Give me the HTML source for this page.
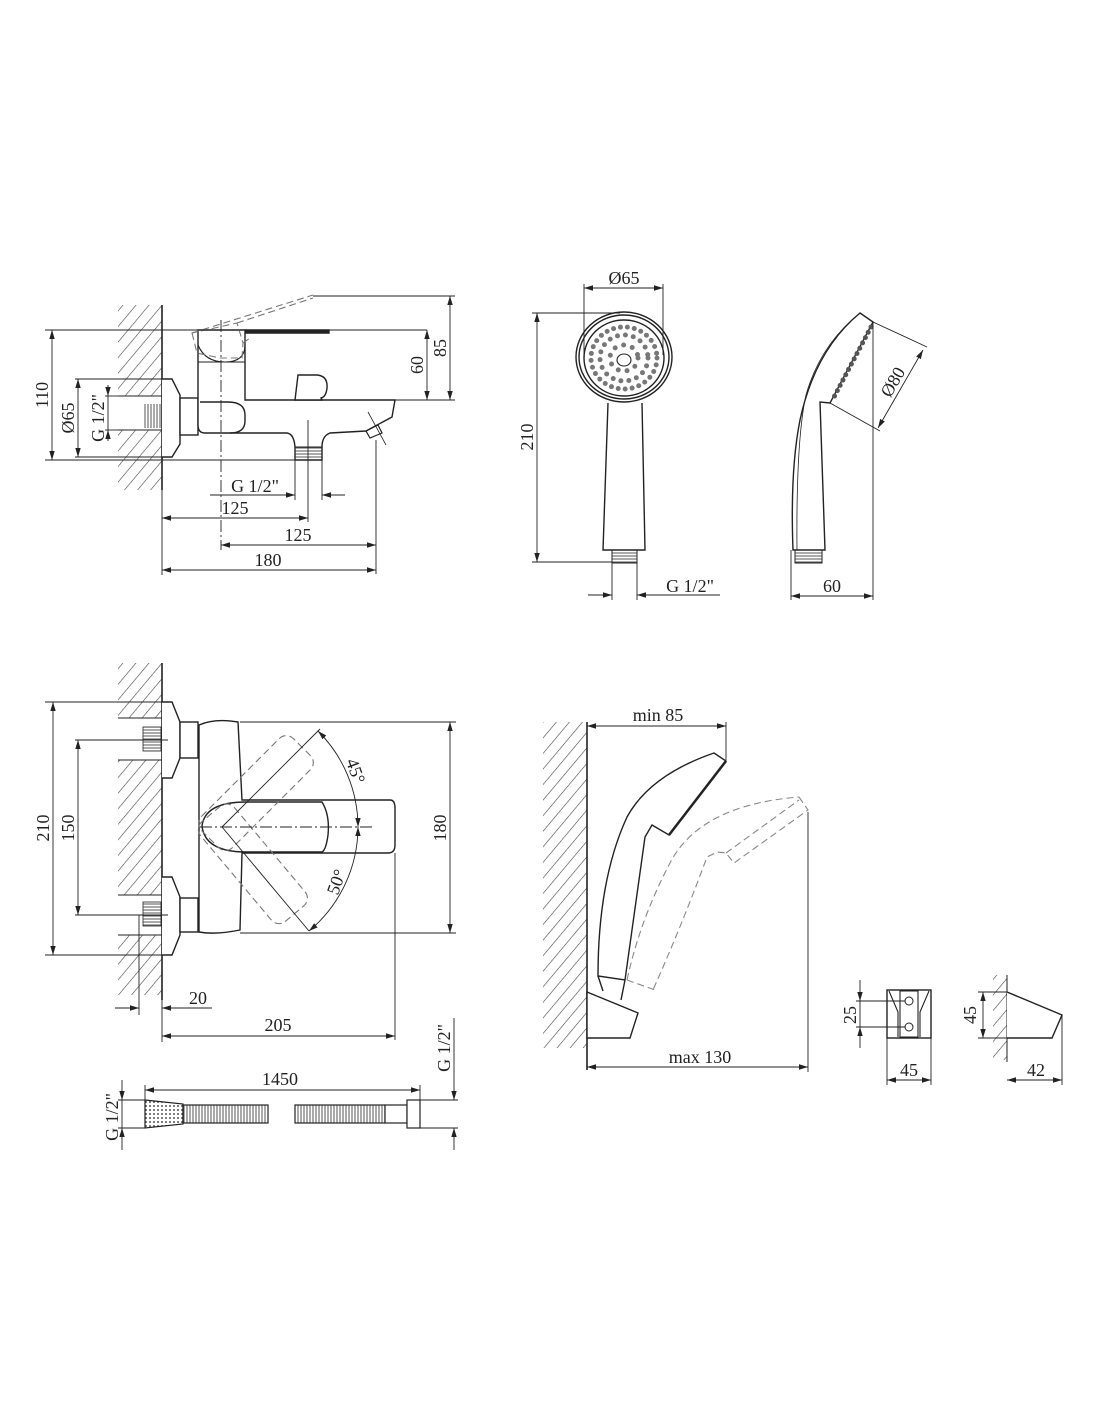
<!DOCTYPE html>
<html><head><meta charset="utf-8"><style>
html,body{margin:0;padding:0;background:#fff}
svg{display:block}
text{font-family:"Liberation Serif",serif;font-size:18px;fill:#222}
</style></head><body>
<svg width="1100" height="1422" viewBox="0 0 1100 1422" xmlns="http://www.w3.org/2000/svg">
<defs>
<pattern id="h" width="10" height="10" patternUnits="userSpaceOnUse" patternTransform="rotate(40)">
<line x1="0" y1="0" x2="0" y2="10" stroke="#444" stroke-width="1.2"/></pattern>
<pattern id="v" width="3" height="3" patternUnits="userSpaceOnUse">
<line x1="1" y1="0" x2="1" y2="3" stroke="#555" stroke-width="1"/></pattern>
<pattern id="hz" width="3" height="3" patternUnits="userSpaceOnUse">
<line x1="0" y1="1" x2="3" y2="1" stroke="#555" stroke-width="1"/></pattern>
<pattern id="dots" width="4" height="4" patternUnits="userSpaceOnUse">
<circle cx="2" cy="2" r="1" fill="#555"/></pattern>
<marker id="a" viewBox="0 0 10 10" refX="10" refY="5" markerWidth="9" markerHeight="9" orient="auto-start-reverse" markerUnits="userSpaceOnUse">
<path d="M0,2 L10,5 L0,8 Z" fill="#222"/></marker>
</defs>
<g fill="none" stroke="#222" stroke-width="1.4">

<!-- ===== TOP MIXER ===== -->
<rect x="118" y="305" width="44" height="185" fill="url(#h)" stroke="none"/>
<rect x="117" y="396" width="45" height="34" fill="#fff" stroke="none"/>
<line x1="118" y1="396" x2="162" y2="396" stroke-width="1"/>
<line x1="118" y1="430" x2="162" y2="430" stroke-width="1"/>
<rect x="143" y="404" width="19" height="24" fill="url(#v)" stroke="none"/>
<line x1="162" y1="305" x2="162" y2="490" stroke-width="1.6"/>
<path d="M162,379 L172,379 L180,395 L180,444 L172,457 L162,457" fill="#fff"/>
<rect x="180" y="398" width="18" height="37" fill="#fff"/>
<!-- body -->
<path d="M198,330 L245,330 L245,400 L395,400 L392,417 L366,431 L330,433 Q322,436 322,447 L322,460 L295,460 L295,447 Q294,434 287,433 L205,433 Q198,433 198,425 Z" fill="#fff"/>
<path d="M200,402 L228,402 Q245,402 245,415 L245,421 Q245,433 230,433" />
<path d="M198,345 Q205,362 225,362 Q245,362 245,345" stroke-width="1.1"/>
<path d="M198,362 L245,362" stroke-width="1.1"/>
<path d="M245,330 L329,330 L329,333 L245,333" fill="#222"/>
<rect x="295" y="447" width="27" height="13" fill="url(#hz)" stroke-width="1"/>
<path d="M298,375 L317,375 Q328,376 327,388 Q326,397 321,398 L322,400 L295,400 Z" fill="#fff"/>
<path d="M366,431 L378,425 L382,433 L370,438 Z" stroke-width="1.2"/>
<line x1="368" y1="412" x2="386" y2="445" stroke-width="0.8"/>
<!-- dashed raised lever -->
<g stroke="#777" stroke-dasharray="7 4" stroke-width="1.1">
<path d="M192,333 L197,353 L220,358 L242,358 L243,343 L237,323 Z"/>
<path d="M192,333 L313,295"/><path d="M237,323 L313,298"/><path d="M243,343 L250,338"/>
</g>
<line x1="221" y1="320" x2="221" y2="550" stroke-dasharray="12 3 2 3" stroke-width="0.9"/>
<!-- dims top mixer -->
<g stroke-width="0.9">
<line x1="45" y1="330" x2="427" y2="330"/>
<line x1="45" y1="460" x2="300" y2="460"/>
<line x1="52" y1="330" x2="52" y2="460" marker-start="url(#a)" marker-end="url(#a)"/>
<line x1="75" y1="379" x2="165" y2="379"/><line x1="75" y1="457" x2="165" y2="457"/>
<line x1="78" y1="379" x2="78" y2="457" marker-start="url(#a)" marker-end="url(#a)"/>
<line x1="105" y1="396" x2="118" y2="396"/><line x1="105" y1="430" x2="118" y2="430"/>
<line x1="108" y1="385" x2="108" y2="396" marker-end="url(#a)"/>
<line x1="108" y1="441" x2="108" y2="430" marker-end="url(#a)"/>
<line x1="108" y1="396" x2="108" y2="430"/>
<line x1="313" y1="296" x2="455" y2="296"/><line x1="395" y1="400" x2="455" y2="400"/>
<line x1="450" y1="296" x2="450" y2="400" marker-start="url(#a)" marker-end="url(#a)"/>
<line x1="427" y1="330" x2="427" y2="400" marker-start="url(#a)" marker-end="url(#a)"/>
<line x1="295" y1="460" x2="295" y2="500"/><line x1="322" y1="460" x2="322" y2="500"/>
<line x1="210" y1="495" x2="295" y2="495" marker-end="url(#a)"/>
<line x1="345" y1="495" x2="322" y2="495" marker-end="url(#a)"/>
<line x1="162" y1="490" x2="162" y2="575"/>
<line x1="308" y1="420" x2="308" y2="522"/>
<line x1="376" y1="440" x2="376" y2="574"/>
<line x1="162" y1="518" x2="308" y2="518" marker-start="url(#a)" marker-end="url(#a)"/>
<line x1="221" y1="545" x2="376" y2="545" marker-start="url(#a)" marker-end="url(#a)"/>
<line x1="162" y1="570" x2="376" y2="570" marker-start="url(#a)" marker-end="url(#a)"/>
</g>

<!-- ===== HAND SHOWER FRONT ===== -->
<ellipse cx="624" cy="357" rx="48" ry="45" fill="#fff"/>
<ellipse cx="624" cy="357" rx="45" ry="42"/>
<ellipse cx="624" cy="358" rx="40" ry="38"/>
<g stroke="#777" stroke-linecap="round" stroke-width="5">
<ellipse cx="624" cy="358" rx="14" ry="13" stroke-dasharray="0 9"/>
<ellipse cx="624" cy="358" rx="24" ry="23" stroke-dasharray="0 8"/>
<ellipse cx="624" cy="358" rx="33" ry="31" stroke-dasharray="0 7"/>
</g>
<ellipse cx="624" cy="360" rx="7" ry="6" stroke-width="1.1"/>
<path d="M608,403 L603,550 L645,550 L642,403" fill="#fff"/>
<rect x="612" y="550" width="25" height="13" fill="url(#hz)" stroke-width="1"/>
<g stroke-width="0.9">
<line x1="584" y1="284" x2="584" y2="355"/><line x1="663" y1="284" x2="663" y2="355"/>
<line x1="584" y1="288" x2="663" y2="288" marker-start="url(#a)" marker-end="url(#a)"/>
<line x1="532" y1="313" x2="620" y2="313"/><line x1="532" y1="562" x2="612" y2="562"/>
<line x1="537" y1="313" x2="537" y2="562" marker-start="url(#a)" marker-end="url(#a)"/>
<line x1="612" y1="563" x2="612" y2="600"/><line x1="637" y1="563" x2="637" y2="600"/>
<line x1="588" y1="595" x2="612" y2="595" marker-end="url(#a)"/>
<line x1="720" y1="595" x2="637" y2="595" marker-end="url(#a)"/>
</g>

<!-- ===== HAND SHOWER SIDE ===== -->
<path d="M860,313 L873,322 L830,403 L820,402 L825,550 L793,550 Q790,470 800,420 Q815,350 860,313 Z" fill="#fff"/>
<path d="M860,313 Q820,345 806,395 Q796,440 797,550" stroke-width="0.8"/>
<line x1="871" y1="327" x2="834" y2="397" stroke="#555" stroke-width="5" stroke-linecap="round" stroke-dasharray="0 6"/>
<rect x="795" y="550" width="27" height="13" fill="url(#hz)" stroke-width="1"/>
<g stroke-width="0.9">
<line x1="873" y1="322" x2="927" y2="347"/><line x1="830" y1="403" x2="880" y2="431"/>
<line x1="923" y1="350" x2="878" y2="428" marker-start="url(#a)" marker-end="url(#a)"/>
<line x1="791" y1="550" x2="791" y2="600"/><line x1="873" y1="322" x2="873" y2="600"/>
<line x1="791" y1="596" x2="873" y2="596" marker-start="url(#a)" marker-end="url(#a)"/>
</g>

<!-- ===== BOTTOM MIXER ===== -->
<rect x="118" y="663" width="44" height="55" fill="url(#h)" stroke="none"/>
<rect x="118" y="760" width="44" height="135" fill="url(#h)" stroke="none"/>
<rect x="118" y="935" width="44" height="60" fill="url(#h)" stroke="none"/>
<g stroke-width="1"><line x1="118" y1="718" x2="162" y2="718"/><line x1="118" y1="760" x2="162" y2="760"/>
<line x1="118" y1="895" x2="162" y2="895"/><line x1="118" y1="935" x2="162" y2="935"/></g>
<rect x="143" y="727" width="18" height="24" fill="url(#hz)" stroke-width="0.8"/>
<rect x="143" y="902" width="18" height="24" fill="url(#hz)" stroke-width="0.8"/>
<line x1="162" y1="663" x2="162" y2="1000" stroke-width="1.6"/>
<path d="M162,702 L172,702 L180,722 L180,758 L172,778 L162,778" fill="#fff"/>
<path d="M162,877 L172,877 L180,897 L180,935 L172,955 L162,955" fill="#fff"/>
<rect x="180" y="722" width="18" height="36" fill="#fff"/>
<rect x="180" y="898" width="18" height="34" fill="#fff"/>
<path d="M199,725 Q215,718 238,722 L242,800 L390,800 Q395,800 395,808 L395,845 Q395,853 388,853 L242,853 L240,930 Q215,935 199,932 Z" fill="#fff"/>
<path d="M246,802 L322,802 Q330,815 328,835 Q326,850 322,852 L246,852 Q205,852 202,826 Q205,802 246,802"/>
<g stroke="#777" stroke-dasharray="7 4" stroke-width="1.1">
<rect x="205" y="805" width="130" height="44" rx="10" transform="rotate(-45 222 827)"/>
<rect x="205" y="805" width="130" height="44" rx="10" transform="rotate(50 222 827)"/>
</g>
<line x1="200" y1="827" x2="375" y2="827" stroke-dasharray="12 3 2 3" stroke-width="0.9"/>
<g stroke-width="0.9">
<line x1="222" y1="827" x2="320" y2="729"/>
<line x1="222" y1="827" x2="309" y2="931"/>
<path d="M318,731 A136,136 0 0 1 358,827" marker-start="url(#a)" marker-end="url(#a)"/>
<path d="M358,827 A136,136 0 0 1 309,931" marker-start="url(#a)" marker-end="url(#a)"/>
<line x1="240" y1="722" x2="456" y2="722"/><line x1="240" y1="933" x2="456" y2="933"/>
<line x1="450" y1="722" x2="450" y2="933" marker-start="url(#a)" marker-end="url(#a)"/>
<line x1="45" y1="702" x2="170" y2="702"/><line x1="45" y1="955" x2="170" y2="955"/>
<line x1="53" y1="702" x2="53" y2="955" marker-start="url(#a)" marker-end="url(#a)"/>
<line x1="75" y1="740" x2="168" y2="740"/><line x1="75" y1="915" x2="168" y2="915"/>
<line x1="78" y1="740" x2="78" y2="915" marker-start="url(#a)" marker-end="url(#a)"/>
<line x1="139" y1="915" x2="139" y2="1015"/>
<line x1="115" y1="1008" x2="139" y2="1008" marker-end="url(#a)"/>
<line x1="212" y1="1008" x2="162" y2="1008" marker-end="url(#a)"/>
<line x1="162" y1="995" x2="162" y2="1042"/>
<line x1="395" y1="853" x2="395" y2="1040"/>
<line x1="162" y1="1036" x2="395" y2="1036" marker-start="url(#a)" marker-end="url(#a)"/>
</g>

<!-- ===== HOSE ===== -->
<path d="M145,1100 L183,1104 L183,1124 L145,1128 Z" fill="url(#dots)" stroke-width="1.2"/>
<rect x="183" y="1105" width="85" height="18" fill="url(#v)" stroke-width="1.2"/>
<rect x="295" y="1105" width="90" height="18" fill="url(#v)" stroke-width="1.2"/>
<rect x="385" y="1105" width="22" height="18" fill="#fff" stroke-width="1.2"/>
<rect x="407" y="1100" width="13" height="28" fill="#fff" stroke-width="1.2"/>
<g stroke-width="0.9">
<line x1="145" y1="1085" x2="145" y2="1100"/><line x1="420" y1="1085" x2="420" y2="1100"/>
<line x1="145" y1="1090" x2="420" y2="1090" marker-start="url(#a)" marker-end="url(#a)"/>
<line x1="118" y1="1100" x2="145" y2="1100"/><line x1="118" y1="1128" x2="145" y2="1128"/>
<line x1="122" y1="1080" x2="122" y2="1100" marker-end="url(#a)"/>
<line x1="122" y1="1150" x2="122" y2="1128" marker-end="url(#a)"/>
<line x1="122" y1="1100" x2="122" y2="1128"/>
<line x1="420" y1="1100" x2="458" y2="1100"/><line x1="420" y1="1128" x2="458" y2="1128"/>
<line x1="454" y1="1018" x2="454" y2="1100" marker-end="url(#a)"/>
<line x1="454" y1="1150" x2="454" y2="1128" marker-end="url(#a)"/>
</g>

<!-- ===== SHOWER ON HOLDER ===== -->
<rect x="543" y="722" width="44" height="326" fill="url(#h)" stroke="none"/>
<line x1="587" y1="722" x2="587" y2="1070" stroke-width="1.6"/>
<path d="M714,753 L726,761 L669,835 L652,825 L645,837 L625,980 L598,976 Q598,880 627,817 Q650,775 714,753 Z" fill="#fff"/>
<line x1="726" y1="761" x2="669" y2="835" stroke-width="2.5"/>
<g stroke="#888" stroke-dasharray="7 4" stroke-width="1.1">
<path d="M799,797 L808,810 L734,863 L726,853 L717,852 L707,857 Q680,930 652,992"/>
<path d="M627,980 Q640,920 670,863 Q700,805 799,797"/>
<path d="M726,853 L799,800"/>
<path d="M627,980 L655,990"/>
</g>
<line x1="598" y1="976" x2="603" y2="991"/><line x1="625" y1="980" x2="621" y2="1000"/>
<path d="M587,992 L638,1013 L630,1038 L587,1038 Z" fill="#fff"/>
<g stroke-width="0.9">
<line x1="726" y1="722" x2="726" y2="760"/>
<line x1="587" y1="726" x2="726" y2="726" marker-start="url(#a)" marker-end="url(#a)"/>
<line x1="808" y1="812" x2="808" y2="1072"/>
<line x1="587" y1="1067" x2="808" y2="1067" marker-start="url(#a)" marker-end="url(#a)"/>
</g>

<!-- small holder front -->
<rect x="887" y="990" width="44" height="48" fill="#fff"/>
<path d="M889,991 L898,1012 L898,1037 M929,991 L920,1012 L920,1037" stroke-width="1.1"/>
<path d="M900,991 L918,991 L918,1037 L900,1037 Z" stroke-width="1.1"/>
<circle cx="909" cy="1001" r="4" stroke-width="1"/><circle cx="909" cy="1027" r="4" stroke-width="1"/>
<g stroke-width="0.9">
<line x1="856" y1="1001" x2="905" y2="1001"/><line x1="856" y1="1027" x2="905" y2="1027"/>
<line x1="860" y1="980" x2="860" y2="1001" marker-end="url(#a)"/>
<line x1="860" y1="1048" x2="860" y2="1027" marker-end="url(#a)"/>
<line x1="860" y1="1001" x2="860" y2="1027"/>
<line x1="887" y1="1038" x2="887" y2="1085"/><line x1="931" y1="1038" x2="931" y2="1085"/>
<line x1="887" y1="1080" x2="931" y2="1080" marker-start="url(#a)" marker-end="url(#a)"/>
</g>
<!-- small holder side -->
<rect x="993" y="975" width="14" height="85" fill="url(#h)" stroke="none"/>
<line x1="1007" y1="975" x2="1007" y2="1062" stroke-width="1"/>
<path d="M1007,992 L1062,1015 L1052,1038 L1007,1038" fill="#fff"/>
<g stroke-width="0.9">
<line x1="978" y1="992" x2="1007" y2="992"/><line x1="978" y1="1038" x2="1007" y2="1038"/>
<line x1="983" y1="992" x2="983" y2="1038" marker-start="url(#a)" marker-end="url(#a)"/>
<line x1="1062" y1="1015" x2="1062" y2="1085"/>
<line x1="1007" y1="1080" x2="1062" y2="1080" marker-start="url(#a)" marker-end="url(#a)"/>
</g>
</g>

<!-- ===== TEXT ===== -->
<g text-anchor="middle">
<text transform="translate(48,395) rotate(-90)">110</text>
<text transform="translate(74,418) rotate(-90)">Ø65</text>
<text transform="translate(104,418) rotate(-90)">G 1/2"</text>
<text transform="translate(446,348) rotate(-90)">85</text>
<text transform="translate(423,365) rotate(-90)">60</text>
<text x="255" y="492">G 1/2"</text>
<text x="235" y="514">125</text>
<text x="298" y="541">125</text>
<text x="268" y="566">180</text>

<text x="624" y="284">Ø65</text>
<text transform="translate(533,437) rotate(-90)">210</text>
<text x="690" y="592">G 1/2"</text>
<text transform="translate(898,385) rotate(-60)">Ø80</text>
<text x="832" y="592">60</text>

<text transform="translate(49,828) rotate(-90)">210</text>
<text transform="translate(74,828) rotate(-90)">150</text>
<text transform="translate(446,828) rotate(-90)">180</text>
<text transform="translate(350,773) rotate(70)">45°</text>
<text transform="translate(342,884) rotate(-70)">50°</text>
<text x="198" y="1004">20</text>
<text x="278" y="1031">205</text>
<text x="280" y="1085">1450</text>
<text transform="translate(118,1117) rotate(-90)">G 1/2"</text>
<text transform="translate(450,1048) rotate(-90)">G 1/2"</text>

<text x="658" y="721">min 85</text>
<text x="700" y="1063">max 130</text>
<text transform="translate(856,1015) rotate(-90)">25</text>
<text x="909" y="1076">45</text>
<text transform="translate(976,1015) rotate(-90)">45</text>
<text x="1036" y="1076">42</text>
</g>
</svg>
</body></html>
